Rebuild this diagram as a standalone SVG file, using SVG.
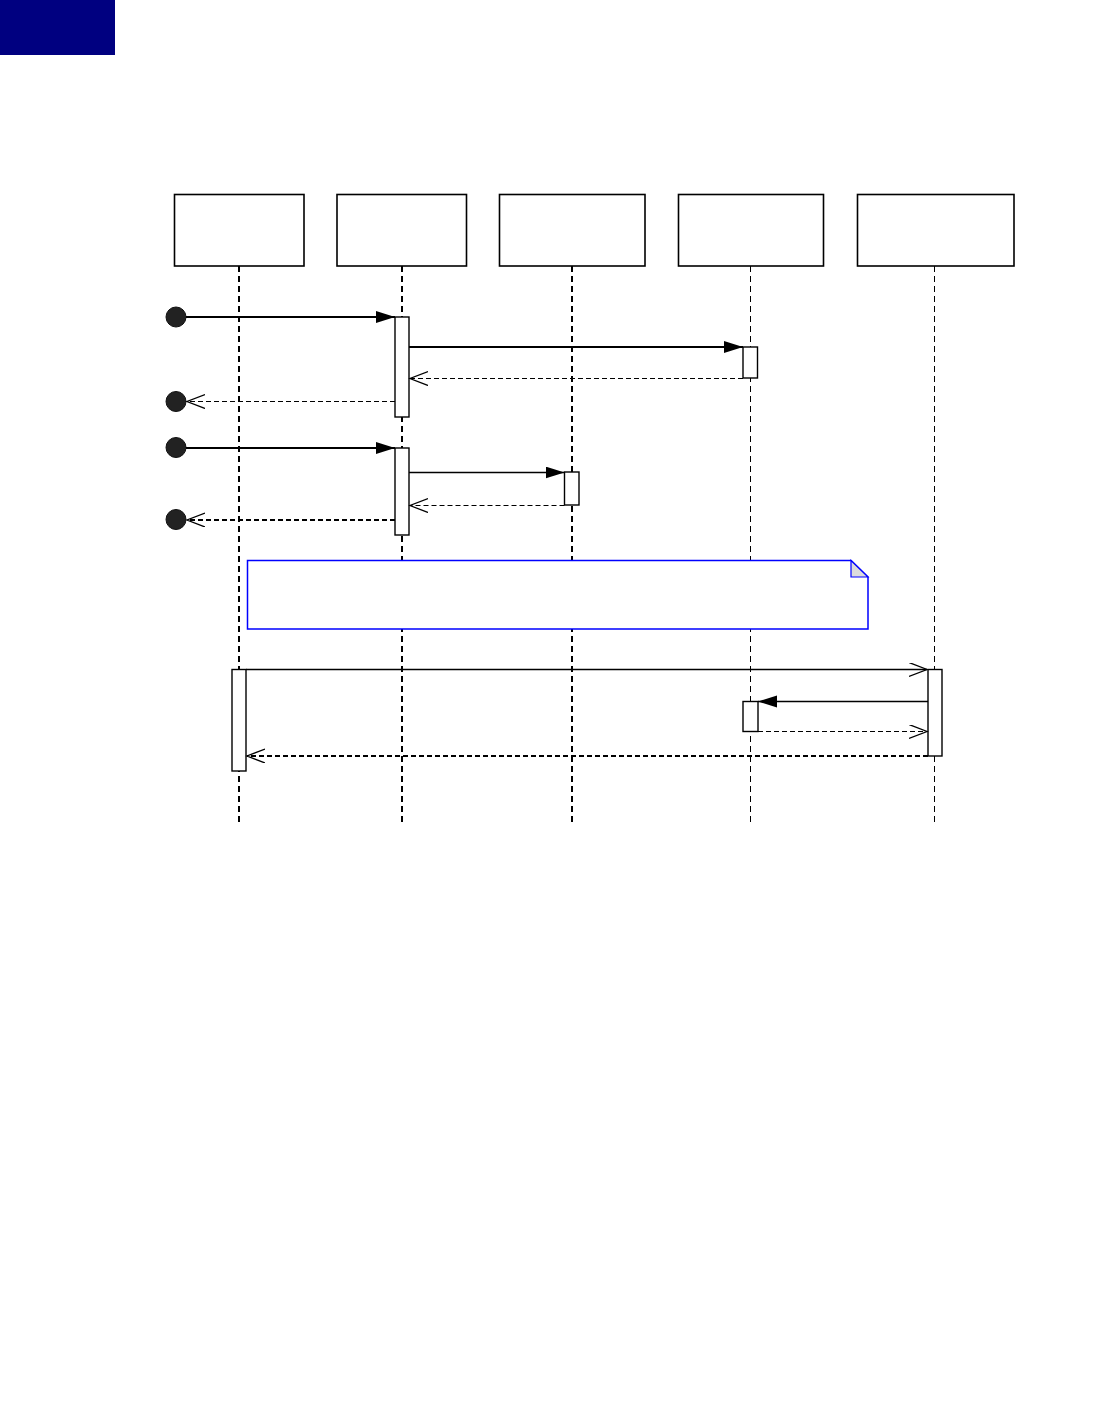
<svg xmlns="http://www.w3.org/2000/svg" width="1114" height="1414" viewBox="0 0 1114 1414">
<defs>
<style>
.box{fill:#fff;stroke:#000;stroke-width:1.6}
.ll{stroke:#000;stroke-width:2;stroke-dasharray:6,4;fill:none}
.llt{stroke:#000;stroke-width:1;stroke-dasharray:6,4;fill:none}
.act{fill:#fff;stroke:#000;stroke-width:1.4}
.msg{stroke:#000;stroke-width:2;fill:none}
.msgt{stroke:#000;stroke-width:1.3;fill:none}
.ret{stroke:#000;stroke-width:1;stroke-dasharray:5,3;fill:none}
.retb{stroke:#000;stroke-width:2;stroke-dasharray:5,3;fill:none}
.gate{fill:#222;stroke:#111;stroke-width:1}
</style>
<marker id="fill" markerWidth="20" markerHeight="14" refX="19" refY="6" orient="auto" markerUnits="userSpaceOnUse">
<path d="M0,0 L19,6 L0,12 Z" fill="#000"/>
</marker>
<marker id="open" markerWidth="20" markerHeight="16" refX="18" refY="7" orient="auto" markerUnits="userSpaceOnUse">
<path d="M0,0 L18,7 L0,14" fill="none" stroke="#000" stroke-width="1.3"/>
</marker>
</defs>
<rect x="0" y="0" width="115" height="55" fill="#000080"/>
<g id="lifeline1"><rect class="box" x="174.5" y="194.5" width="129.5" height="71.5"/><line class="ll" x1="239" y1="266" x2="239" y2="822"/></g>
<g id="lifeline2"><rect class="box" x="337" y="194.5" width="129.5" height="71.5"/><line class="ll" x1="402" y1="266" x2="402" y2="822"/></g>
<g id="lifeline3"><rect class="box" x="499.5" y="194.5" width="145.5" height="71.5"/><line class="ll" x1="572" y1="266" x2="572" y2="822"/></g>
<g id="lifeline4"><rect class="box" x="678.5" y="194.5" width="145" height="71.5"/><line class="llt" x1="750.5" y1="266" x2="750.5" y2="822"/></g>
<g id="lifeline5"><rect class="box" x="857.5" y="194.5" width="156.5" height="71.5"/><line class="llt" x1="934.5" y1="266" x2="934.5" y2="822"/></g>
<g id="activations">
<rect class="act" x="395" y="317" width="14" height="100"/>
<rect class="act" x="743" y="347" width="14.5" height="31"/>
<rect class="act" x="395" y="448" width="14" height="87"/>
<rect class="act" x="564.5" y="472" width="14.5" height="33"/>
<rect class="act" x="232" y="669.5" width="14" height="101.5"/>
<rect class="act" x="928" y="669.5" width="14" height="86.5"/>
<rect class="act" x="743" y="701.5" width="15" height="30"/>
</g>
<g id="gates">
<circle class="gate" cx="176" cy="317" r="10"/>
<circle class="gate" cx="176" cy="401.5" r="10"/>
<circle class="gate" cx="176" cy="447.5" r="10"/>
<circle class="gate" cx="176" cy="519.5" r="10"/>
</g>
<g id="note">
<path d="M247.5,560.5 H851 L868,577 V629 H247.5 Z" fill="#fff" stroke="#0000ff" stroke-width="1.5"/>
<path d="M851,560.5 L868,577 H851 Z" fill="#dcdcdc" stroke="#0000ff" stroke-width="1.2"/>
</g>
<g id="connectors">
<line class="msg" x1="186" y1="317" x2="395" y2="317" marker-end="url(#fill)"/>
<line class="msg" x1="409" y1="347" x2="743" y2="347" marker-end="url(#fill)"/>
<line class="ret" x1="743" y1="378.5" x2="410" y2="378.5" marker-end="url(#open)"/>
<line class="ret" x1="395" y1="401.5" x2="187" y2="401.5" marker-end="url(#open)"/>
<line class="msg" x1="186" y1="448" x2="395" y2="448" marker-end="url(#fill)"/>
<line class="msgt" x1="409" y1="472.5" x2="564.5" y2="472.5" marker-end="url(#fill)"/>
<line class="ret" x1="564.5" y1="505.5" x2="410" y2="505.5" marker-end="url(#open)"/>
<line class="retb" x1="395" y1="520" x2="187" y2="520" marker-end="url(#open)"/>
<line class="msgt" x1="246" y1="669.5" x2="927" y2="669.5" marker-end="url(#open)"/>
<line class="msgt" x1="928" y1="701.5" x2="758" y2="701.5" marker-end="url(#fill)"/>
<line class="ret" x1="758" y1="731.5" x2="927" y2="731.5" marker-end="url(#open)"/>
<line class="retb" x1="928" y1="756" x2="247" y2="756" marker-end="url(#open)"/>
</g>
</svg>
